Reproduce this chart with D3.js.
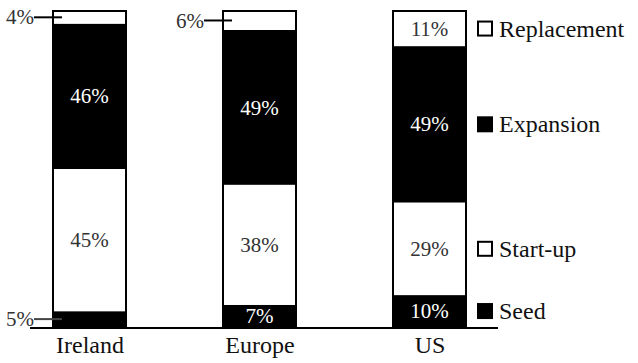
<!DOCTYPE html>
<html>
<head>
<meta charset="utf-8">
<script src="https://cdn.jsdelivr.net/npm/d3@7"></script>
<style>
  html, body { margin: 0; padding: 0; background: #fff; }
  svg { display: block; }
</style>
</head>
<body>
<svg id="chart" width="638" height="363"></svg>
<script>
// Investment stage shares (%) by region
const categories = ["Ireland", "Europe", "US"];
const stages = ["Seed", "Start-up", "Expansion", "Replacement"];
const seed        = [5, 7, 10];
const startUp     = [45, 38, 29];
const expansion   = [46, 49, 49];
const replacement = [4, 6, 11];
const stageFill = { "Seed": "#000", "Start-up": "#fff", "Expansion": "#000", "Replacement": "#fff" };

const FONT = '"Liberation Serif"';

const rows = categories.map((c, i) => ({
  category: c,
  "Seed": seed[i],
  "Start-up": startUp[i],
  "Expansion": expansion[i],
  "Replacement": replacement[i]
}));

const svg = d3.select("#chart");
const barW = 73;
const x = d3.scalePoint().domain(categories).range([89.5, 429.5]);
const y = d3.scaleLinear().domain([0, 1]).range([327, 11]);

const series = d3.stack().keys(stages).offset(d3.stackOffsetExpand)(rows);

// stacked segments
const groups = svg.append("g").selectAll("g").data(series).join("g")
  .attr("fill", d => stageFill[d.key]);
groups.selectAll("rect").data(d => d.map(p => ({ p, key: d.key }))).join("rect")
  .attr("x", d => x(d.p.data.category) - barW / 2)
  .attr("width", barW)
  .attr("y", d => y(d.p[1]))
  .attr("height", d => y(d.p[0]) - y(d.p[1]));

// bar outlines
svg.append("g").selectAll("rect").data(rows).join("rect")
  .attr("x", d => x(d.category) - barW / 2)
  .attr("width", barW)
  .attr("y", y(1))
  .attr("height", y(0) - y(1))
  .attr("fill", "none")
  .attr("stroke", "#000")
  .attr("stroke-width", 2);

// value labels inside segments (small ones are called out on the left)
const callouts = new Set(["Ireland|Replacement", "Ireland|Seed", "Europe|Replacement"]);
const labels = [];
series.forEach(s => s.forEach(p => {
  const cat = p.data.category;
  labels.push({ cat, key: s.key, v: p.data[s.key], mid: (y(p[0]) + y(p[1])) / 2 });
}));

svg.append("g").selectAll("text").data(labels.filter(d => !callouts.has(d.cat + "|" + d.key))).join("text")
  .attr("x", d => x(d.cat))
  .attr("y", d => d.mid)
  .attr("dy", "0.34em")
  .attr("text-anchor", "middle")
  .style("font-family", FONT)
  .style("font-size", "21px")
  .attr("fill", d => stageFill[d.key] === "#000" ? "#fff" : "#333")
  .text(d => d.v + "%");

// callouts with leader lines
const co = svg.append("g");
labels.filter(d => callouts.has(d.cat + "|" + d.key)).forEach(d => {
  const left = x(d.cat) - barW / 2;
  co.append("line")
    .attr("x1", left - 19).attr("x2", left + 9)
    .attr("y1", d.mid).attr("y2", d.mid)
    .attr("stroke", d.key === "Seed" ? "#444" : "#000")
    .attr("stroke-width", 2);
  co.append("text")
    .attr("x", left - 19)
    .attr("y", d.mid)
    .attr("dy", "0.34em")
    .attr("text-anchor", "end")
    .style("font-family", FONT)
    .style("font-size", "21px")
    .attr("fill", "#333")
    .text(d.v + "%");
});

// baseline
svg.append("line")
  .attr("x1", 30).attr("x2", 498)
  .attr("y1", y(0) + 1).attr("y2", y(0) + 1)
  .attr("stroke", "#000").attr("stroke-width", 2);

// category axis labels
const xAxis = d3.axisBottom(x).tickSize(0).tickPadding(8);
const ax = svg.append("g").attr("transform", `translate(0,${y(0) + 1})`).call(xAxis);
ax.select(".domain").remove();
ax.selectAll("text")
  .style("font-family", FONT)
  .style("font-size", "24px")
  .attr("fill", "#111");

// legend, aligned to the US segments
const usIdx = categories.indexOf("US");
const legend = svg.append("g");
series.forEach(s => {
  const p = s[usIdx];
  const cy = (y(p[0]) + y(p[1])) / 2;
  const g = legend.append("g").attr("transform", `translate(478,${cy})`);
  g.append("rect")
    .attr("x", 0).attr("y", -7).attr("width", 14).attr("height", 14)
    .attr("fill", stageFill[s.key]).attr("stroke", "#000").attr("stroke-width", 2);
  g.append("text")
    .attr("x", 21).attr("dy", "0.34em")
    .style("font-family", FONT)
    .style("font-size", "24px")
    .attr("fill", "#111")
    .text(s.key);
});
</script>
</body>
</html>
